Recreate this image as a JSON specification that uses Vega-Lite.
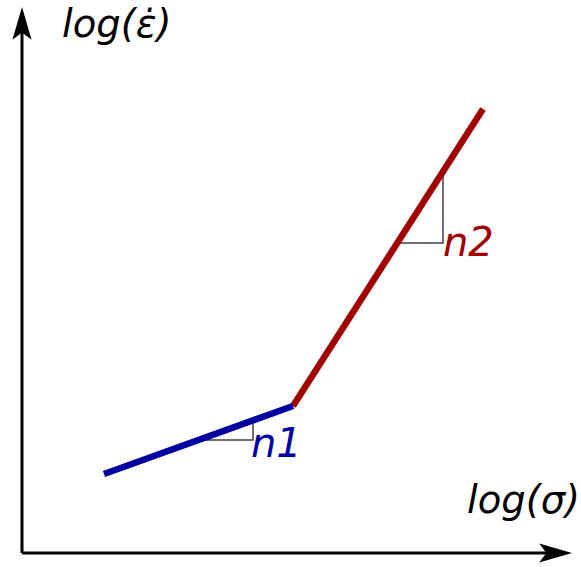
{
  "$schema": "https://vega.github.io/schema/vega-lite/v6.json",
  "width": 581,
  "height": 567,
  "autosize": {"type": "fit", "contains": "padding"},
  "padding": 0,
  "background": "white",
  "config": {"view": {"stroke": null}},
  "datasets": {
    "lines": [
      {"part": "yaxis", "order": 1, "x": 22, "y": 14},
      {"part": "yaxis", "order": 2, "x": 22, "y": 537},
      {"part": "xaxis", "order": 1, "x": 22, "y": 14},
      {"part": "xaxis", "order": 2, "x": 550, "y": 14},
      {"part": "n1", "order": 1, "x": 104, "y": 93},
      {"part": "n1", "order": 2, "x": 293, "y": 161},
      {"part": "n2", "order": 1, "x": 293, "y": 161},
      {"part": "n2", "order": 2, "x": 483, "y": 458},
      {"part": "tri1", "order": 1, "x": 199, "y": 127},
      {"part": "tri1", "order": 2, "x": 253, "y": 127},
      {"part": "tri1", "order": 3, "x": 253, "y": 147},
      {"part": "tri2", "order": 1, "x": 397, "y": 324},
      {"part": "tri2", "order": 2, "x": 443, "y": 324},
      {"part": "tri2", "order": 3, "x": 443, "y": 396}
    ],
    "arrows": [
      {"x": 22, "y": 544, "angle": 0},
      {"x": 556, "y": 14, "angle": 90}
    ],
    "labels": [
      {"x": 62, "y": 530, "text": "log(ε̇)", "kind": "axis"},
      {"x": 467, "y": 54, "text": "log(σ)", "kind": "axis"},
      {"x": 251, "y": 110, "text": "n1", "kind": "n1"},
      {"x": 443, "y": 311, "text": "n2", "kind": "n2"}
    ]
  },
  "layer": [
    {
      "data": {"name": "lines"},
      "transform": [{"filter": "datum.part === 'tri1' || datum.part === 'tri2'"}],
      "mark": {"type": "line", "color": "#404040", "strokeWidth": 1.5, "strokeCap": "butt"},
      "encoding": {
        "x": {"field": "x", "type": "quantitative", "scale": {"domain": [0, 581], "nice": false, "zero": false}, "axis": null},
        "y": {"field": "y", "type": "quantitative", "scale": {"domain": [0, 567], "nice": false, "zero": false}, "axis": null},
        "detail": {"field": "part"},
        "order": {"field": "order"}
      }
    },
    {
      "data": {"name": "lines"},
      "transform": [{"filter": "datum.part === 'xaxis' || datum.part === 'yaxis'"}],
      "mark": {"type": "line", "color": "black", "strokeWidth": 3, "strokeCap": "butt"},
      "encoding": {
        "x": {"field": "x", "type": "quantitative", "scale": {"domain": [0, 581], "nice": false, "zero": false}, "axis": null},
        "y": {"field": "y", "type": "quantitative", "scale": {"domain": [0, 567], "nice": false, "zero": false}, "axis": null},
        "detail": {"field": "part"},
        "order": {"field": "order"}
      }
    },
    {
      "data": {"name": "lines"},
      "transform": [{"filter": "datum.part === 'n2'"}],
      "mark": {"type": "line", "color": "#a00000", "strokeWidth": 6.5, "strokeCap": "butt"},
      "encoding": {
        "x": {"field": "x", "type": "quantitative", "scale": {"domain": [0, 581], "nice": false, "zero": false}, "axis": null},
        "y": {"field": "y", "type": "quantitative", "scale": {"domain": [0, 567], "nice": false, "zero": false}, "axis": null},
        "order": {"field": "order"}
      }
    },
    {
      "data": {"name": "lines"},
      "transform": [{"filter": "datum.part === 'n1'"}],
      "mark": {"type": "line", "color": "#0000a0", "strokeWidth": 6.5, "strokeCap": "butt"},
      "encoding": {
        "x": {"field": "x", "type": "quantitative", "scale": {"domain": [0, 581], "nice": false, "zero": false}, "axis": null},
        "y": {"field": "y", "type": "quantitative", "scale": {"domain": [0, 567], "nice": false, "zero": false}, "axis": null},
        "order": {"field": "order"}
      }
    },
    {
      "data": {"name": "arrows"},
      "mark": {"type": "point", "shape": "M0,-1 L0.6,1.05 L0,0.6 L-0.6,1.05 Z", "filled": true, "color": "black", "opacity": 1, "size": 1024, "strokeWidth": 0},
      "encoding": {
        "x": {"field": "x", "type": "quantitative", "scale": {"domain": [0, 581], "nice": false, "zero": false}, "axis": null},
        "y": {"field": "y", "type": "quantitative", "scale": {"domain": [0, 567], "nice": false, "zero": false}, "axis": null},
        "angle": {"field": "angle", "type": "quantitative", "scale": null}
      }
    },
    {
      "data": {"name": "labels"},
      "transform": [{"filter": "datum.kind === 'axis'"}],
      "mark": {"type": "text", "align": "left", "baseline": "alphabetic", "font": "DejaVu Sans", "fontStyle": "italic", "fontSize": 38.5, "color": "black"},
      "encoding": {
        "x": {"field": "x", "type": "quantitative", "scale": {"domain": [0, 581], "nice": false, "zero": false}, "axis": null},
        "y": {"field": "y", "type": "quantitative", "scale": {"domain": [0, 567], "nice": false, "zero": false}, "axis": null},
        "text": {"field": "text"}
      }
    },
    {
      "data": {"name": "labels"},
      "transform": [{"filter": "datum.kind !== 'axis'"}],
      "mark": {"type": "text", "align": "left", "baseline": "alphabetic", "font": "DejaVu Sans", "fontStyle": "italic", "fontSize": 40},
      "encoding": {
        "x": {"field": "x", "type": "quantitative", "scale": {"domain": [0, 581], "nice": false, "zero": false}, "axis": null},
        "y": {"field": "y", "type": "quantitative", "scale": {"domain": [0, 567], "nice": false, "zero": false}, "axis": null},
        "text": {"field": "text"},
        "color": {"field": "kind", "type": "nominal", "scale": {"domain": ["n1", "n2"], "range": ["#0000a0", "#a00000"]}, "legend": null}
      }
    }
  ]
}
